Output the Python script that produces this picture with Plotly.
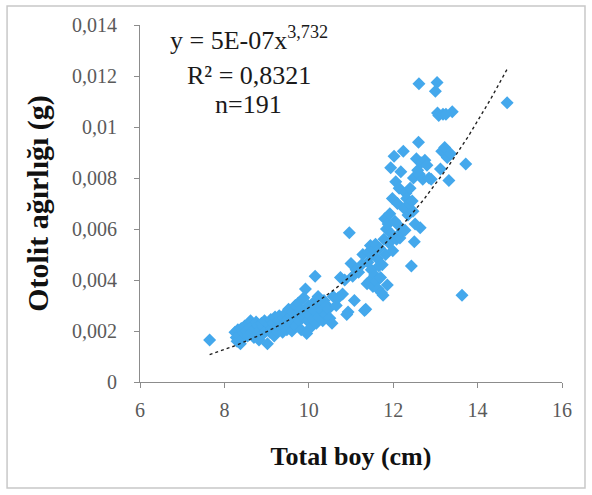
import numpy as np
import plotly.graph_objects as go

# Total length (cm) of each fish
total_boy = [
    7.65, 8.25, 8.28, 8.30, 8.32, 8.35, 8.38, 8.40, 8.42, 8.45, 8.48,
    8.52, 8.55, 8.58, 8.60, 8.62, 8.65, 8.68, 8.70, 8.72, 8.75, 8.78, 8.80, 8.82, 8.85, 8.88, 8.90, 8.92, 8.95, 8.98, 9.02,
    9.05, 9.08, 9.10, 9.12, 9.15, 9.18, 9.20, 9.22, 9.25, 9.28, 9.30, 9.32, 9.35, 9.38, 9.40, 9.42, 9.45, 9.48, 9.50,
    9.52, 9.55, 9.58, 9.60, 9.62, 9.65, 9.68, 9.70, 9.72, 9.75, 9.78, 9.80, 9.82, 9.85, 9.88, 9.90, 9.92, 9.95, 9.97, 9.99,
    10.02, 10.05, 10.08, 10.10, 10.12, 10.15, 10.18, 10.20, 10.22, 10.25, 10.28, 10.30, 10.33, 10.36, 10.40, 10.43, 10.46, 10.50, 10.55, 10.58,
    10.65, 10.70, 10.75, 10.80, 10.85, 10.90, 10.93, 10.96, 11.00, 11.04, 11.08, 11.12, 11.18, 11.25, 11.28,
    11.32, 11.35, 11.38, 11.40, 11.42, 11.44, 11.46, 11.48, 11.50, 11.52, 11.54, 11.56, 11.58, 11.60, 11.62, 11.64, 11.66,
    11.68, 11.70, 11.72, 11.74, 11.76, 11.78, 11.80, 11.82, 11.84, 11.86, 11.88, 11.90, 11.92, 11.94, 11.96, 11.98, 11.99,
    12.02, 12.04, 12.06, 12.08, 12.10, 12.12, 12.14, 12.16, 12.18, 12.20, 12.24, 12.26, 12.28, 12.30, 12.32, 12.35, 12.38,
    12.40, 12.43, 12.45, 12.47, 12.48, 12.50, 12.52, 12.55, 12.58, 12.60, 12.61, 12.62, 12.64, 12.66,
    12.70, 12.75, 12.80, 12.85, 12.90, 13.00, 13.04, 13.05, 13.08, 13.12, 13.15, 13.18, 13.22, 13.25, 13.28, 13.32, 13.36,
    13.40, 13.63, 13.72, 14.70,
]

# Otolith weight (g) of each fish
otolit_agirligi = [
    0.00165, 0.00195, 0.00175, 0.00160, 0.00205, 0.00185, 0.00150, 0.00210, 0.00170, 0.00195, 0.00220,
    0.00200, 0.00180, 0.00230, 0.00215, 0.00240, 0.00195, 0.00225, 0.00175, 0.00210, 0.00235, 0.00190, 0.00220, 0.00165, 0.00205, 0.00230, 0.00185, 0.00215, 0.00240, 0.00200, 0.00150,
    0.00225, 0.00195, 0.00245, 0.00210, 0.00230, 0.00180, 0.00255, 0.00220, 0.00200, 0.00240, 0.00260, 0.00215, 0.00235, 0.00195, 0.00250, 0.00225, 0.00270, 0.00205, 0.00245,
    0.00285, 0.00230, 0.00260, 0.00200, 0.00275, 0.00245, 0.00300, 0.00220, 0.00265, 0.00310, 0.00240, 0.00285, 0.00205, 0.00255, 0.00330, 0.00275, 0.00365, 0.00190, 0.00240, 0.00300,
    0.00260, 0.00215, 0.00285, 0.00310, 0.00245, 0.00415, 0.00230, 0.00270, 0.00335, 0.00255, 0.00295, 0.00280, 0.00240, 0.00320, 0.00265, 0.00300, 0.00285, 0.00250, 0.00230, 0.00335,
    0.00300, 0.00330, 0.00410, 0.00345, 0.00400, 0.00265, 0.00275, 0.00585, 0.00465, 0.00415, 0.00320, 0.00440, 0.00430, 0.00460, 0.00500,
    0.00280, 0.00285, 0.00385, 0.00470, 0.00510, 0.00395, 0.00535, 0.00440, 0.00500, 0.00375, 0.00520, 0.00420, 0.00540, 0.00395, 0.00485, 0.00365, 0.00455,
    0.00525, 0.00410, 0.00350, 0.00460, 0.00340, 0.00560, 0.00640, 0.00500, 0.00600, 0.00380, 0.00620, 0.00545, 0.00660, 0.00840, 0.00580, 0.00720, 0.00515,
    0.00885, 0.00630, 0.00785, 0.00560, 0.00700, 0.00615, 0.00760, 0.00565, 0.00825, 0.00590, 0.00905, 0.00680, 0.00595, 0.00740, 0.00720, 0.00655, 0.00700,
    0.00760, 0.00455, 0.00710, 0.00670, 0.00800, 0.00550, 0.00620, 0.00875, 0.00830, 0.00940, 0.01170, 0.00815, 0.00605, 0.00860,
    0.00795, 0.00870, 0.00850, 0.00800, 0.00795, 0.01140, 0.01175, 0.01055, 0.01045, 0.00835, 0.00905, 0.01050, 0.00920, 0.01050, 0.00880, 0.00790, 0.00895,
    0.01060, 0.00340, 0.00855, 0.01095,
]

# Power trendline y = a * x^b
coef_a = 5.4e-7
coef_b = 3.732
r_squared = 0.8321

y_tickvals = [0, 0.002, 0.004, 0.006, 0.008, 0.010, 0.012, 0.014]
y_ticktext = ["0", "0,002", "0,004", "0,006", "0,008", "0,01", "0,012", "0,014"]
x_tickvals = [6, 8, 10, 12, 14, 16]

SERIF = "Liberation Serif, Times New Roman, serif"
AXIS_GRAY = "#8C8C8C"
TICK_GRAY = "#5A5A5A"

fit_x = np.linspace(min(total_boy), max(total_boy), 120)
fit_y = coef_a * fit_x ** coef_b

fig = go.Figure()
fig.add_trace(go.Scatter(
    x=total_boy, y=otolit_agirligi, mode="markers",
    marker=dict(symbol="diamond", size=10, color="#44A8EC", line=dict(width=0)),
    showlegend=False, hoverinfo="x+y",
))
fig.add_trace(go.Scatter(
    x=fit_x, y=fit_y, mode="lines",
    line=dict(color="#1F1F1F", width=1.4, dash="dot"),
    showlegend=False, hoverinfo="skip",
))


def fmt_comma(v, nd):
    return f"{v:.{nd}f}".replace(".", ",")


eq_text = f"y = {coef_a:.0E}x<sup>{fmt_comma(coef_b, 3)}</sup>"
lines = [
    (eq_text, 0.962),
    (f"R² = {fmt_comma(r_squared, 4)}", 0.858),
    (f"n={len(total_boy)}", 0.778),
]
for txt, yy in lines:
    fig.add_annotation(
        x=0.258, y=yy, xref="paper", yref="paper", text=txt, showarrow=False,
        xanchor="center", yanchor="middle",
        font=dict(family=SERIF, size=26, color="#1A1A1A"),
    )

# outer frame around the chart
fig.add_shape(
    type="rect", xref="paper", yref="paper",
    x0=-0.315, x1=1.0545, y0=-0.297, y1=1.053,
    line=dict(color="#C8C8C8", width=1.5), fillcolor="rgba(0,0,0,0)", layer="below",
)

fig.update_layout(
    width=592, height=495,
    margin=dict(l=140, r=30, t=25, b=113),
    paper_bgcolor="white", plot_bgcolor="white",
    separators=",.",
    xaxis=dict(
        range=[6, 16], tickvals=x_tickvals, showgrid=False, zeroline=False,
        showline=True, linecolor=AXIS_GRAY, linewidth=1,
        ticks="outside", ticklen=5, tickcolor=AXIS_GRAY, ticklabelstandoff=5,
        tickfont=dict(family=SERIF, size=20, color=TICK_GRAY),
        title=dict(text="<b>Total boy (cm)</b>", standoff=26,
                   font=dict(family=SERIF, size=26, color="#111111")),
    ),
    yaxis=dict(
        range=[0, 0.014], tickvals=y_tickvals, ticktext=y_ticktext,
        showgrid=False, zeroline=False,
        showline=True, linecolor=AXIS_GRAY, linewidth=1,
        ticks="outside", ticklen=5, tickcolor=AXIS_GRAY, ticklabelstandoff=13,
        tickfont=dict(family=SERIF, size=20, color=TICK_GRAY),
        title=dict(text="<b>Otolit ağırlığı (g)</b>", standoff=14,
                   font=dict(family=SERIF, size=30, color="#111111")),
    ),
)

fig.write_html("out.html")
